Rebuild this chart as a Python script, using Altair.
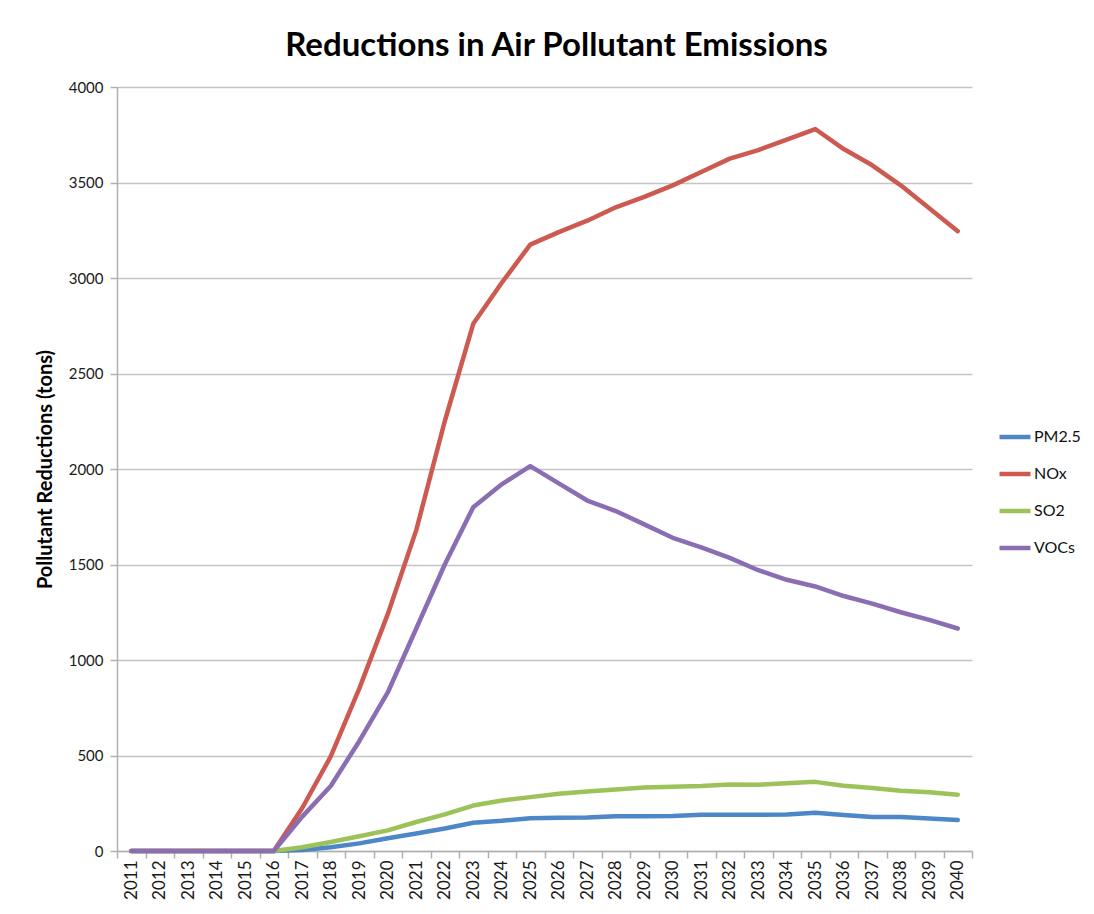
import altair as alt
import pandas as pd

years = list(range(2011, 2041))
series_names = ["PM2.5", "NOx", "SO2", "VOCs"]
series_colors = ["#4D87C7", "#CC5A50", "#9DC25A", "#8A6DB2"]

pm25 = [0, 0, 0, 0, 0, 0, 5, 20, 40, 67, 92, 118, 148, 158, 172, 174, 175, 182, 182, 183,
        190, 190, 190, 191, 200, 188, 178, 178, 170, 162]
nox = [0, 0, 0, 0, 0, 0, 225, 495, 850, 1240, 1680, 2250, 2760, 2975, 3175, 3240, 3300, 3370,
       3425, 3485, 3555, 3625, 3670, 3725, 3780, 3675, 3590, 3485, 3365, 3245]
so2 = [0, 0, 0, 0, 0, 0, 20, 47, 77, 108, 152, 192, 238, 264, 282, 300, 312, 322, 332, 336,
       340, 348, 347, 355, 362, 342, 330, 316, 308, 295]
vocs = [0, 0, 0, 0, 0, 0, 180, 340, 575, 830, 1165, 1500, 1800, 1920, 2015, 1925, 1835, 1780,
        1710, 1640, 1590, 1535, 1470, 1420, 1385, 1335, 1295, 1250, 1210, 1165]

y_ticks = [0, 500, 1000, 1500, 2000, 2500, 3000, 3500, 4000]
x_edges = [y - 0.5 for y in years] + [years[-1] + 0.5]

rows = []
for name, vals in zip(series_names, [pm25, nox, so2, vocs]):
    for yr, v in zip(years, vals):
        rows.append({"year": yr, "value": v, "series": name})
df = pd.DataFrame(rows)

FONT = "Lato"
xscale = alt.Scale(domain=[x_edges[0], x_edges[-1]], nice=False, zero=False)
yscale = alt.Scale(domain=[0, 4000], nice=False)

yaxis = alt.Axis(
    values=y_ticks, format="d", title="Pollutant Reductions (tons)", titleFont=FONT,
    titleFontSize=20, titleFontWeight="bold", titleColor="#000000", titlePadding=13,
    labelFont=FONT, labelFontSize=15, labelColor="#1a1a1a", labelPadding=7,
    tickSize=7, tickColor="#b0b0b0", tickWidth=1.5,
    domainColor="#b0b0b0", domainWidth=1.5,
    grid=True, gridColor="#c4c4c4", gridWidth=1.5,
)

label_axis = alt.Axis(
    orient="bottom", values=years, format="d", labelAngle=-90, labelFont=FONT,
    labelFontSize=17, labelColor="#1a1a1a", labelPadding=9, ticks=False, tickSize=0,
    domain=False, grid=False, title=None,
)
tick_axis = alt.Axis(
    orient="bottom", values=x_edges, labels=False, tickSize=7, tickColor="#b0b0b0",
    tickWidth=1.5, domainColor="#b0b0b0", domainWidth=1.5, grid=False, title=None,
)

color = alt.Color(
    "series:N",
    scale=alt.Scale(domain=series_names, range=series_colors),
    sort=series_names,
    legend=alt.Legend(
        title=None, orient="none", legendX=880, legendY=332, symbolType="stroke",
        symbolSize=961, symbolStrokeWidth=4.5, labelFont=FONT, labelFontSize=16,
        labelColor="#111111", labelOffset=1, rowPadding=10, padding=0, labelLimit=200,
    ),
)

base = alt.Chart(df)

tick_layer = base.mark_line(opacity=0).encode(
    x=alt.X("year:Q", scale=xscale, axis=tick_axis),
    y=alt.Y("value:Q", scale=yscale, axis=yaxis),
    detail="series:N",
)

lines = base.mark_line(strokeWidth=4.5, strokeCap="round", strokeJoin="round").encode(
    x=alt.X("year:Q", scale=xscale, axis=label_axis),
    y=alt.Y("value:Q", scale=yscale, axis=yaxis),
    color=color,
    order=alt.Order("year:Q"),
)

chart = (
    alt.layer(tick_layer, lines)
    .resolve_axis(x="independent")
    .properties(
        width=855,
        height=764,
        autosize=alt.AutoSizeParams(type="none"),
        padding={"left": 109, "top": 79, "right": 112, "bottom": 52},
        background="white",
        title=alt.TitleParams(
            "Reductions in Air Pollutant Emissions", font=FONT, fontSize=33,
            fontWeight="bold", color="#000000", anchor="middle", offset=17, dx=12,
        ),
    )
    .configure_view(stroke="transparent")
)

chart.save("out.html", embed_options={"renderer": "svg", "actions": False})
